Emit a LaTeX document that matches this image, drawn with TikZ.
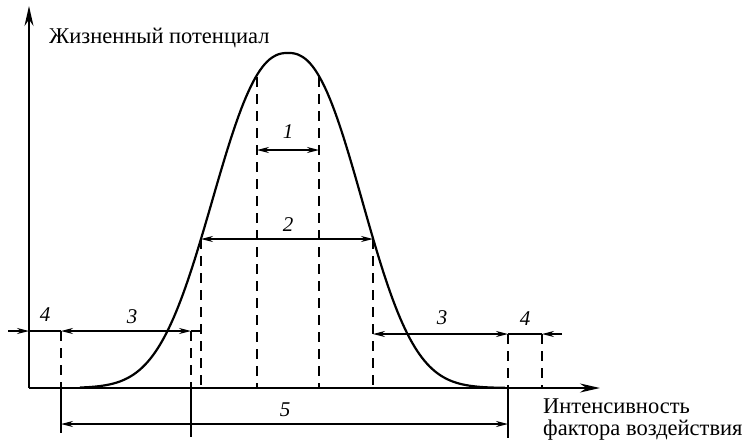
\documentclass[tikz,border=0pt]{standalone}
\usepackage{fontspec}
\setmainfont{Liberation Serif}
\usetikzlibrary{arrows.meta,positioning,calc}
\tikzset{
  axis/.style={line width=2pt,-{Stealth[length=20pt,width=9pt]}},
  curve/.style={line width=2.2pt,line join=round},
  dimline/.style={line width=1.3pt,>={Stealth[length=12pt,width=6pt]},<->},
  thinline/.style={line width=1.3pt},
  guide/.style={line width=1.3pt,dash pattern=on 10pt off 7pt},
  zone/.style={font=\fontsize{21}{21}\selectfont\itshape,inner sep=0pt},
  axislabel/.style={font=\fontsize{22.5}{22}\selectfont,inner sep=0pt,align=left}
}

\begin{document}
\begin{tikzpicture}[x=1pt,y=-1pt]
  \useasboundingbox (0,0) rectangle (747,445);

  % axes
  \coordinate (O) at (29,388);
  \coordinate (ytip) at (29,6);
  \coordinate (xtip) at (600,388);
  \draw[axis] (O) -- (ytip);
  \draw[axis] (O) -- (xtip);
  \node[axislabel,anchor=base west] (ylab) at (49,43) {Жизненный потенциал};
  \node[axislabel,anchor=north west] (xlab) at (543,399)
    {Интенсивность\\фактора воздействия};

  % response curve, a bit steeper on the right
  \draw[curve] plot[domain=80:288,samples=90]
      (\x,{388-335*exp(-((abs(\x-288)+0.001)/95)^2.4)})
    -- plot[domain=288:505,samples=90]
      (\x,{388-335*exp(-((abs(\x-288)+0.001)/93)^2.4)});

  % dashed guides: name/x/top
  \foreach \n/\gx/\gy in {a/257/77, b/319/77, c/201/239, d/373/239,
                          e/61/331, f/191/331, g/508/334, h/542/334} {
    \coordinate (\n-top) at (\gx,\gy);
    \coordinate (\n-bot) at (\gx,388);
    \draw[guide] (\n-top) -- (\n-bot);
  }

  % extension lines below the axis
  \coordinate (e-ext) at (61,433);
  \coordinate (f-ext) at (191,437);
  \coordinate (g-ext) at (508,438);
  \draw[thinline] (e-bot) -- (e-ext);
  \draw[thinline] (f-bot) -- (f-ext);
  \draw[thinline] (g-bot) -- (g-ext);

  % zone 1 and 2
  \coordinate (z1a) at (257,150);
  \coordinate (z1b) at (319,150);
  \draw[dimline] (z1a) -- (z1b);
  \node[zone] (n1) at (288,132) {1};
  \coordinate (z2a) at (201,239);
  \coordinate (z2b) at (373,239);
  \draw[dimline] (z2a) -- (z2b);
  \node[zone] (n2) at (288,225) {2};

  % left zones 3 and 4
  \coordinate (l4s) at (8,331);
  \coordinate (l4e) at (29,331);
  \coordinate (l3a) at (61,331);
  \coordinate (l3b) at (191,331);
  \coordinate (l3e) at (201,331);
  \draw[thinline,->,>={Stealth[length=12pt,width=6pt]}] (l4s) -- (l4e);
  \draw[thinline] (l4e) -- (l3a);
  \draw[dimline] (l3a) -- (l3b);
  \draw[thinline] (l3b) -- (l3e);
  \node[zone] (n4l) at (45,315) {4};
  \node[zone] (n3l) at (132,317) {3};

  % right zones 3 and 4
  \coordinate (r3a) at (373,334);
  \coordinate (r3b) at (508,334);
  \coordinate (r4b) at (542,334);
  \coordinate (r4s) at (562,334);
  \draw[dimline] (r3a) -- (r3b);
  \draw[thinline] (r3b) -- (r4b);
  \draw[thinline,->,>={Stealth[length=12pt,width=6pt]}] (r4s) -- (r4b);
  \node[zone] (n3r) at (442,318) {3};
  \node[zone] (n4r) at (525,319) {4};

  % zone 5
  \coordinate (z5a) at (61,424);
  \coordinate (z5b) at (508,424);
  \draw[dimline] (z5a) -- (z5b);
  \node[zone] (n5) at (285,410) {5};
\end{tikzpicture}
\end{document}
